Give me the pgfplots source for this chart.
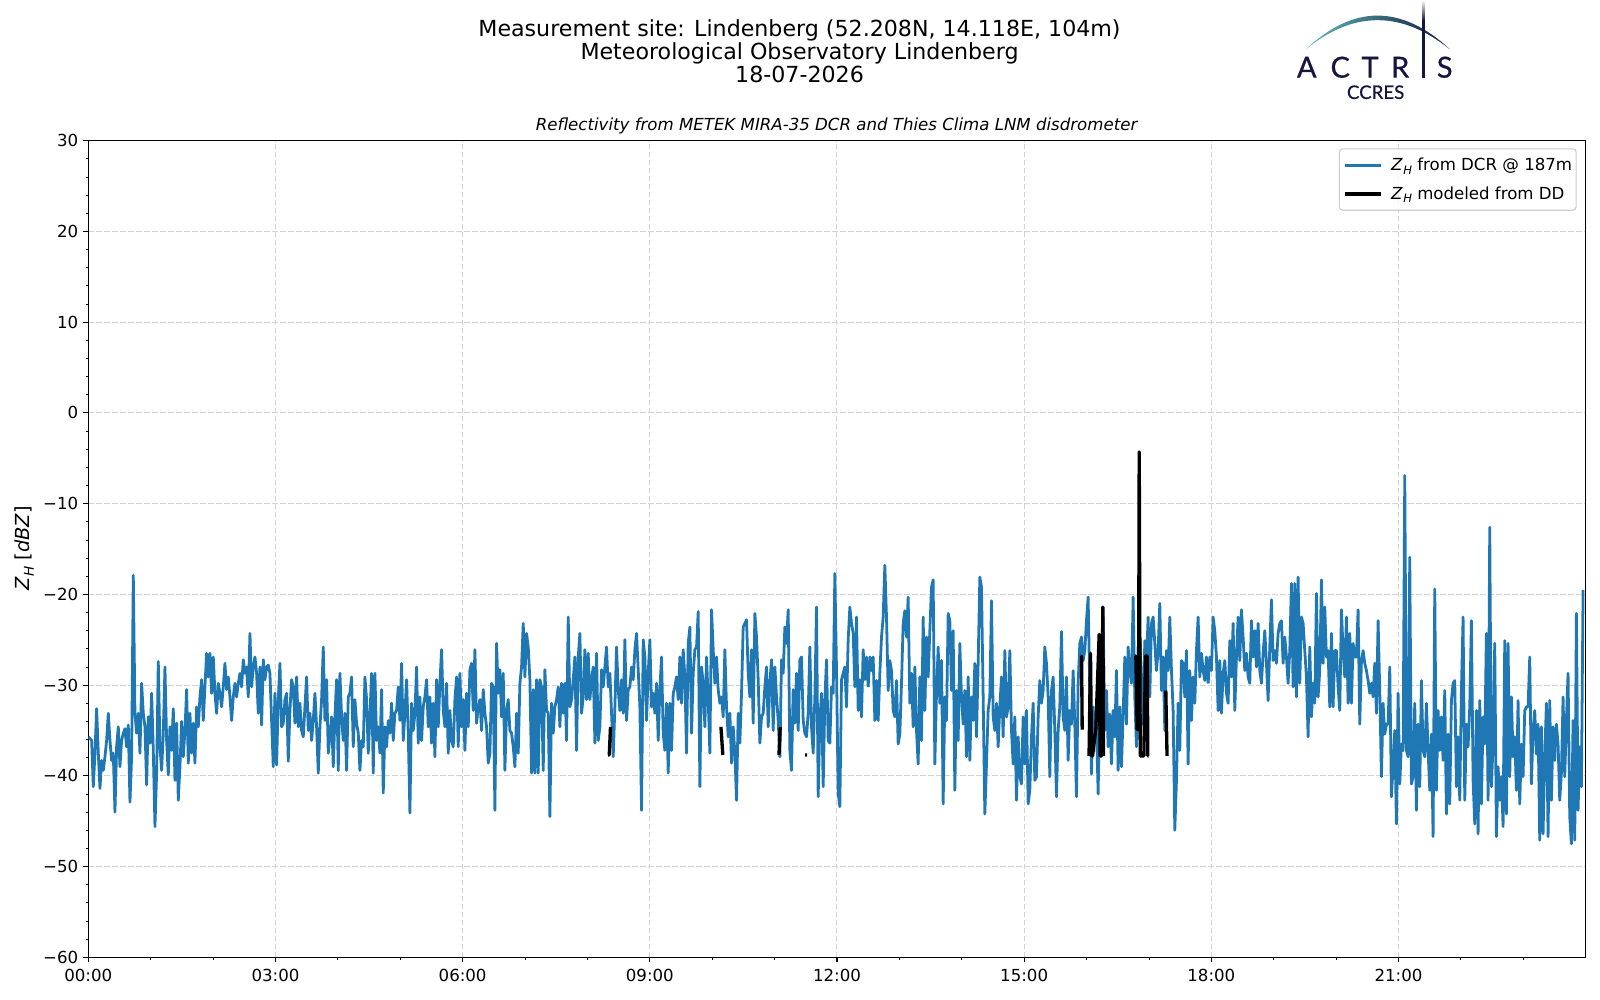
\documentclass[border=0pt]{standalone}
\usepackage{fontspec}
\setmainfont{DejaVu Sans}
\newfontfamily\logofont[FakeBold=0.6]{Lato}
\usepackage{pgfplots}
\pgfplotsset{compat=1.18}
\usepackage{pgfplotstable}
\definecolor{mplblue}{HTML}{1F77B4}
\definecolor{gridgray}{HTML}{D3D3D3}
\definecolor{legframe}{HTML}{CCCCCC}
\definecolor{actNavy}{HTML}{15153F}
\definecolor{actTeal}{HTML}{5FBDB8}
\newcommand{\ZH}{\textit{Z}\kern0.02em\raisebox{-0.22em}{\scalebox{0.7}{\textit{H}}}}

% DCR reflectivity, uniform 1.6-min sampling, split in consecutive segments
\pgfplotstableread[row sep=\\]{y\\
-35.7\\-35.9\\-36.1\\-41.2\\-37.5\\-32.6\\-37.5\\-41.4\\-38.3\\-39.4\\
-37.9\\-36.1\\-33.1\\-36.1\\-38.3\\-37.5\\-44.0\\-36.8\\-34.6\\-39.0\\
-36.1\\-35.3\\-34.8\\-36.8\\-34.4\\-42.9\\-37.9\\-17.9\\-33.1\\-35.3\\
-33.1\\-37.5\\-29.8\\-33.1\\-34.6\\-41.0\\-33.5\\-36.4\\-30.9\\-37.2\\
-45.6\\-39.7\\-27.4\\-36.8\\-39.4\\-35.3\\-28.0\\-36.1\\-39.9\\-34.6\\
-37.2\\-32.6\\-40.5\\-34.2\\-42.7\\-39.0\\-34.0\\-37.9\\-35.0\\-30.5\\
-38.6\\-33.1\\-37.5\\-34.2\\-38.6\\-32.4\\-34.6\\-31.3\\-29.4\\-33.9\\
-30.2\\-26.5\\-29.1\\-26.5\\-30.9\\-26.9\\-30.9\\-33.1\\-29.8\\-30.9\\
-32.4\\-30.2\\-27.6\\-30.5\\-29.1\\-31.3\\-33.9\\-31.3\\-29.8\\-31.3\\
-29.8\\-28.7\\-30.2\\-27.2\\-28.7\\-28.0\\-31.3\\-24.3\\-30.2\\-28.0\\
-26.9\\-28.7\\-33.1\\-28.0\\-34.4\\-27.2\\-29.4\\-28.0\\-27.8\\-28.7\\
-33.9\\-39.0\\-30.9\\-38.8\\-31.6\\-27.6\\-34.6\\-34.2\\-31.6\\-30.9\\
-38.4\\-32.8\\-29.4\\-30.2\\-34.2\\-29.1\\-34.6\\-32.0\\-35.0\\-35.7\\
-32.4\\-29.1\\-35.0\\-33.1\\-36.1\\-33.9\\-30.9\\-34.6\\-39.7\\-34.6\\
-31.6\\-25.8\\-33.9\\-29.4\\-37.5\\-35.7\\-33.5\\-39.0\\-33.5\\-29.4\\
-39.4\\-28.7\\-33.5\\-36.1\\-33.1\\-39.4\\-31.3\\-30.9\\-29.1\\-36.8\\
-31.6\\-34.2\\-35.3\\-39.4\\-36.1\\-36.8\\-29.1\\-31.6\\-37.5\\-33.5\\
-28.7\\-39.7\\-28.7\\-36.1\\-34.6\\-37.5\\-30.5\\-41.9\\-34.6\\-36.8\\
-33.9\\-35.3\\-32.0\\-36.1\\-33.1\\-32.8\\-30.2\\-33.9\\-27.6\\-36.1\\
-33.1\\-29.4\\-35.3\\-44.1\\-32.0\\-35.0\\-33.1\\-28.0\\-36.4\\-31.3\\
-36.1\\-32.4\\-31.3\\-29.4\\-34.6\\-31.3\\-36.4\\-32.0\\-37.9\\-29.4\\
-34.6\\-29.8\\-26.1\\-32.8\\-34.6\\-29.8\\-37.5\\-32.8\\-36.1\\-36.8\\
-31.6\\-29.1\\-36.8\\-28.7\\-34.6\\-31.6\\-37.2\\-30.9\\-34.6\\-28.3\\
-27.6\\-32.8\\-26.1\\-34.2\\-32.4\\
}\segA

\pgfplotstableread[row sep=\\]{y\\
-32.4\\
-31.6\\-35.0\\-30.5\\-33.1\\-34.6\\-38.6\\-37.5\\-29.8\\-30.2\\-43.8\\
-25.4\\-30.9\\-28.3\\-33.5\\-28.7\\-39.4\\-32.8\\-31.6\\-35.0\\-35.3\\
-36.8\\-39.0\\-33.1\\-37.5\\-29.8\\-28.0\\-23.2\\-29.1\\-24.3\\-25.8\\
-29.4\\-39.7\\-30.5\\-39.7\\-29.4\\-39.7\\-29.4\\-30.2\\-39.4\\-28.3\\
-32.8\\-33.1\\-44.5\\-32.0\\-35.3\\-32.4\\-31.6\\-30.2\\-34.6\\-29.8\\
-33.1\\-29.8\\-36.1\\-22.5\\-32.4\\-31.6\\-29.4\\-26.9\\-37.2\\-26.9\\
-24.3\\-33.1\\-31.3\\-26.1\\-31.6\\-26.5\\-31.6\\-29.4\\-28.0\\-36.4\\
-26.5\\-36.1\\-34.6\\-28.3\\-30.2\\-28.0\\-25.8\\-30.2\\-28.7\\-33.1\\
-37.9\\-32.4\\-25.8\\-30.5\\-32.8\\-29.4\\-33.1\\-25.0\\-33.9\\-30.5\\
-30.2\\-28.0\\-29.4\\-26.1\\-24.3\\-28.3\\-32.4\\-43.8\\-25.0\\-26.9\\
-33.9\\-28.7\\-25.0\\-32.4\\-30.9\\-33.1\\-29.8\\-36.1\\-30.5\\-26.9\\
-35.3\\-37.2\\-32.0\\-39.7\\-32.0\\-37.2\\-30.9\\-30.2\\-29.1\\-31.6\\
-26.9\\-32.0\\-26.1\\-29.1\\-37.5\\-25.4\\-23.6\\-35.3\\-28.7\\-26.1\\
-25.8\\-21.9\\-41.2\\-28.0\\-29.8\\-34.6\\-26.9\\-31.6\\-37.5\\-21.7\\
-26.1\\-29.8\\-26.9\\-30.5\\-32.0\\-31.3\\-33.5\\-26.1\\-32.4\\-35.7\\
-33.1\\-38.6\\-34.6\\-37.5\\-42.7\\-33.1\\-36.4\\-30.9\\-23.6\\-23.2\\
-22.8\\-28.7\\-31.3\\-26.1\\-34.2\\-22.1\\-24.7\\-29.4\\-36.4\\-33.5\\
-33.1\\-30.2\\-28.0\\-34.6\\-29.8\\-27.2\\-35.0\\-28.0\\-31.3\\-33.9\\
-37.9\\-27.2\\-28.7\\-23.6\\-25.4\\-21.7\\-37.2\\-39.4\\-30.5\\-34.2\\
-28.7\\-35.0\\-27.2\\-26.9\\-33.9\\-35.3\\-35.7\\-33.1\\-25.8\\-34.6\\
-37.5\\-31.3\\-21.4\\-42.3\\-33.9\\-30.9\\-41.2\\-31.6\\-27.2\\-36.1\\
-36.4\\-30.2\\-30.9\\-17.7\\-28.3\\-41.9\\-43.4\\-29.4\\-28.7\\-28.0\\
-32.4\\-25.0\\-21.4\\-23.2\\-24.3\\-30.2\\-22.5\\-32.8\\-29.4\\-33.5\\
-26.1\\-29.4\\-26.9\\-30.2\\
}\segB

\pgfplotstableread[row sep=\\]{y\\
-30.2\\
-26.9\\-28.4\\-26.9\\-33.9\\-29.5\\-33.9\\-28.7\\-24.7\\-22.5\\-16.8\\
-22.5\\-30.6\\-27.3\\-28.4\\-32.8\\-33.5\\-29.5\\-36.5\\-35.4\\-29.8\\
-23.2\\-21.8\\-24.7\\-20.3\\-32.0\\-28.7\\-34.6\\-28.0\\-35.0\\-38.7\\
-29.1\\-36.1\\-22.5\\-32.8\\-24.7\\-29.1\\-24.0\\-19.2\\-18.4\\-38.7\\
-30.9\\-25.8\\-32.0\\-27.3\\-43.1\\-31.3\\-33.9\\-22.1\\-22.9\\-30.6\\
-24.0\\-41.6\\-30.6\\-36.1\\-25.4\\-31.3\\-34.3\\-30.6\\-37.9\\-29.1\\
-38.3\\-31.3\\-33.9\\-27.6\\-35.7\\-27.6\\-18.1\\-19.2\\-31.3\\-44.2\\
-38.7\\-32.8\\-31.3\\-20.7\\-33.5\\-35.0\\-32.0\\-36.8\\-32.4\\-29.1\\
-35.7\\-26.2\\-33.5\\-32.4\\-26.2\\-35.0\\-38.7\\-33.5\\-42.7\\-35.7\\
-40.1\\-40.9\\-33.5\\-38.7\\-32.8\\-43.1\\-41.6\\-35.7\\-32.0\\-40.5\\
-40.1\\-33.5\\-29.5\\-32.0\\-30.6\\-25.8\\-27.6\\-31.3\\-40.1\\-30.6\\
-29.1\\-35.0\\-42.3\\-35.0\\-32.4\\-24.1\\-33.5\\-35.0\\-29.1\\-38.3\\
-32.8\\-34.3\\-28.4\\-34.3\\-42.3\\-29.8\\-25.4\\-24.7\\-27.3\\-26.2\\
-22.9\\-20.3\\-30.6\\-39.8\\-32.4\\-35.7\\-34.3\\-42.0\\-30.6\\-27.6\\
-22.5\\-35.0\\-30.6\\-36.8\\-33.2\\-38.7\\-32.8\\-35.7\\-28.4\\-39.4\\
-32.4\\-39.0\\-33.2\\-26.9\\-34.3\\-25.8\\-28.4\\-29.8\\-20.3\\-31.3\\
-36.8\\-25.8\\-24.7\\-29.8\\-34.3\\-25.1\\-27.6\\-22.5\\-31.3\\-23.2\\
-22.5\\-25.4\\-28.4\\-26.2\\-21.0\\-30.6\\-26.9\\-35.0\\-26.2\\-28.4\\
-22.5\\-28.4\\-32.8\\-46.0\\-40.5\\-32.0\\-37.2\\-27.3\\-27.6\\-31.3\\
-26.2\\-38.7\\-28.4\\-33.9\\-29.1\\-32.0\\-26.2\\-22.5\\-29.1\\-26.5\\
-28.4\\-29.5\\-26.9\\-29.8\\
}\segC

\pgfplotstableread[row sep=\\]{y\\
-29.8\\
-26.9\\-28.4\\-22.5\\-24.0\\-26.9\\-32.8\\-27.3\\-33.1\\-28.7\\-27.3\\
-30.9\\-32.0\\-25.1\\-29.1\\-23.2\\-32.8\\-26.9\\-22.5\\-27.3\\-21.7\\
-24.7\\-28.4\\-26.5\\-29.1\\-29.8\\-22.9\\-26.9\\-24.0\\-28.0\\-23.2\\
-28.4\\-29.8\\-26.5\\-24.0\\-27.6\\-31.7\\-25.8\\-20.6\\-27.3\\-26.2\\
-27.6\\-24.3\\-23.2\\-22.9\\-27.6\\-24.7\\-26.9\\-29.8\\-26.2\\-18.8\\
-30.2\\-18.8\\-31.3\\-18.1\\-29.8\\-22.5\\-23.2\\-26.2\\-29.1\\-35.7\\
-25.8\\-33.5\\-29.8\\-32.0\\-19.9\\-31.3\\-28.4\\-18.4\\-27.6\\-21.4\\
-26.9\\-26.2\\-32.4\\-24.3\\-32.4\\-26.2\\-26.2\\-30.2\\-32.8\\-21.7\\
-26.2\\-29.1\\-22.5\\-32.0\\-24.3\\-32.0\\-25.4\\-26.9\\-26.9\\-21.7\\
-34.3\\-27.3\\-26.2\\-27.6\\-28.4\\-29.5\\-30.9\\-29.8\\-31.3\\-27.6\\
-33.1\\-22.9\\-30.6\\-40.1\\-32.0\\-35.4\\-34.3\\-34.3\\-28.0\\-42.3\\
-39.0\\-35.0\\-45.3\\-30.9\\-40.9\\-36.5\\-37.2\\-6.9\\-37.2\\-37.9\\
-15.9\\-40.9\\-40.1\\-32.0\\-43.8\\-34.3\\-41.2\\-29.5\\-37.2\\-37.9\\
-32.0\\-37.2\\-41.6\\-35.4\\-46.7\\-19.4\\-41.6\\-32.8\\-37.2\\-33.5\\
-38.3\\-30.6\\-44.2\\-35.4\\-43.1\\-31.7\\-29.8\\-29.5\\-41.2\\-35.7\\
-42.7\\-30.6\\-22.5\\-42.7\\-34.3\\-36.8\\-32.4\\-22.9\\-40.5\\-45.3\\
-32.8\\-46.4\\-31.7\\-43.1\\-33.5\\-36.5\\-24.3\\-42.7\\-12.6\\-41.2\\
-36.5\\-25.4\\-46.7\\-39.0\\-42.7\\-40.1\\-45.6\\-25.1\\-44.2\\-25.4\\
-40.1\\-31.3\\-37.9\\-35.7\\-41.6\\-31.7\\-43.1\\-36.5\\-40.1\\-32.8\\
-32.4\\-32.4\\-26.9\\-40.9\\-35.0\\-32.8\\-37.6\\-34.3\\-47.1\\-34.6\\
-46.4\\-37.9\\-32.0\\-46.7\\-31.7\\-42.7\\-34.6\\-38.3\\-34.3\\-36.5\\
}\segD

\pgfplotstableread[row sep=\\]{y\\
-36.5\\-42.7\\-39.7\\-31.3\\-40.1\\-33.9\\-28.7\\-44.5\\-47.5\\-33.9\\
-47.1\\-22.1\\-43.8\\-36.8\\-41.2\\-19.5\\
}\segE

\begin{document}
\begin{tikzpicture}
\useasboundingbox (0,0) rectangle (16in,10in);
\begin{axis}[
  at={(0.883in,0.427in)}, anchor=south west,
  scale only axis, width=14.974in, height=8.166in,
  xmin=0, xmax=24, ymin=-60, ymax=30,
  xtick={0,3,...,21},
  xticklabels={00:00,03:00,06:00,09:00,12:00,15:00,18:00,21:00},
  minor xtick={1,2,4,5,7,8,10,11,13,14,16,17,19,20,22,23},
  ytick={-60,-50,...,30},
  yticklabels={−60,−50,−40,−30,−20,−10,0,10,20,30},
  minor y tick num=4,
  tick align=outside, xtick pos=left, ytick pos=left,
  major tick length=3.5bp, minor tick length=2bp,
  tick style={black, line width=0.8bp},
  minor tick style={line width=0.6bp},
  axis line style={line width=0.8bp},
  xmajorgrids, ymajorgrids,
  major grid style={gridgray, line width=0.01in, dash pattern=on 0.055in off 0.025in},
  tick label style={font=\fontsize{12}{14}\selectfont},
  xticklabel style={anchor=north, inner sep=0pt, yshift=-0.065in},
  yticklabel style={anchor=east, inner sep=0pt, xshift=-0.05in},
  unbounded coords=jump,
  legend style={at={(1,1)}, anchor=north east, xshift=-0.09in, yshift=-0.076in,
    draw=legframe, line width=0.8bp, rounded corners=2.5bp,
    fill=white, fill opacity=0.8, text opacity=1,
    font=\fontsize{12}{14}\selectfont,
    inner xsep=0.04in, inner ysep=0.09in, row sep=0.14in, column sep=0.09in,
    nodes={inner sep=0pt}},
  legend cell align=left,
  legend image code/.code={\draw[#1] (0in,0in) -- (0.356in,0in);},
]
\addplot[draw=mplblue, line width=2bp, line join=round, no marks]
  table[x expr=\coordindex*0.026709, y=y] {\segA};
\addlegendentry{\ZH\ from DCR @ 187m}
\addplot[draw=mplblue, line width=2bp, line join=round, no marks, forget plot]
  table[x expr=6.2499+\coordindex*0.026709, y=y] {\segB};
\addplot[draw=mplblue, line width=2bp, line join=round, no marks, forget plot]
  table[x expr=12.4998+\coordindex*0.026709, y=y] {\segC};
\addplot[draw=mplblue, line width=2bp, line join=round, no marks, forget plot]
  table[x expr=17.9484+\coordindex*0.026709, y=y] {\segD};
\addplot[draw=mplblue, line width=2bp, line join=round, no marks, forget plot]
  table[x expr=23.5573+\coordindex*0.026709, y=y] {\segE};
\addplot[draw=black, line width=2.4bp, line join=round, no marks] coordinates {
(8.33,-37.7) (8.35,-37.7) (8.37,-34.6) (8.38,nan)
(10.14,-34.6) (10.17,-37.7) (10.18,nan)
(11.07,-37.7) (11.09,-34.6) (11.10,nan)
(11.49,-37.7) (11.52,-37.7) (11.53,nan)
(15.90,-26.8) (15.92,-26.8) (15.93,-34.9) (15.95,nan)
(16.04,-37.8) (16.063,-26.5) (16.08,-37.8) (16.096,-37.8) (16.149,-34.8) (16.202,-24.4) (16.218,-37.8) (16.24,-37.8) (16.261,-21.4) (16.272,-37.8) (16.29,nan)
(16.769,-26.8) (16.79,-26.8) (16.811,-34.9) (16.833,-34.9) (16.844,-4.3) (16.86,-37.8) (16.918,-37.8) (16.945,-26.8) (16.972,-26.8) (16.982,-37.8) (16.993,-37.8) (17.0,nan)
(17.27,-30.6) (17.29,-37.8)
};
\addlegendentry{\ZH\ modeled from DD}
\end{axis}

\begin{scope}[x=0.01in, y=-0.01in, shift={(0,10in)}]
% titles
\node[anchor=base, inner sep=0pt, font=\fontsize{16}{19}\selectfont] at (800,36.5) {Measurement site: Lindenberg (52.208N, 14.118E, 104m)};
\node[anchor=base, inner sep=0pt, font=\fontsize{16}{19}\selectfont] at (800,59.5) {Meteorological Observatory Lindenberg};
\node[anchor=base, inner sep=0pt, font=\fontsize{16}{19}\selectfont] at (800,82.5) {18-07-2026};
\node[anchor=base, inner sep=0pt, font=\fontsize{12}{14}\selectfont\itshape] at (837,130.5) {Reflectivity from METEK MIRA-35 DCR and Thies Clima LNM disdrometer};
% y label
\node[rotate=90, inner sep=0pt, font=\fontsize{14}{16}\selectfont] at (24.5,548.5) {\ZH\ [\textit{dBZ}]};
% ACTRIS logo
\shade[left color=actTeal, right color=actNavy, middle color=actTeal!50!actNavy]
  (1306.7,49.3) .. controls (1354.2,4.4) and (1402.2,4.4) .. (1450.7,49.3)
  .. controls (1402.2,10.5) and (1354.2,10.5) .. (1306.7,49.3) -- cycle;
\fill[actNavy] (1422.4,20) rectangle (1425.6,77.7);
\shade[top color=white, bottom color=actNavy] (1422.8,0) rectangle (1425.2,20.5);
\foreach \cx/\ch in {1307.5/A, 1341/C, 1370.8/T, 1401/R, 1445.5/S}
  \node[anchor=base, inner sep=0pt, text=actNavy, font=\logofont\fontsize{21}{24}\selectfont] at (\cx,77.7) {\ch};
\node[anchor=base, inner sep=0pt, text=actNavy, font=\logofont\fontsize{13.5}{15}\selectfont] at (1376.4,99) {CCRES};
\end{scope}
\end{tikzpicture}
\end{document}
